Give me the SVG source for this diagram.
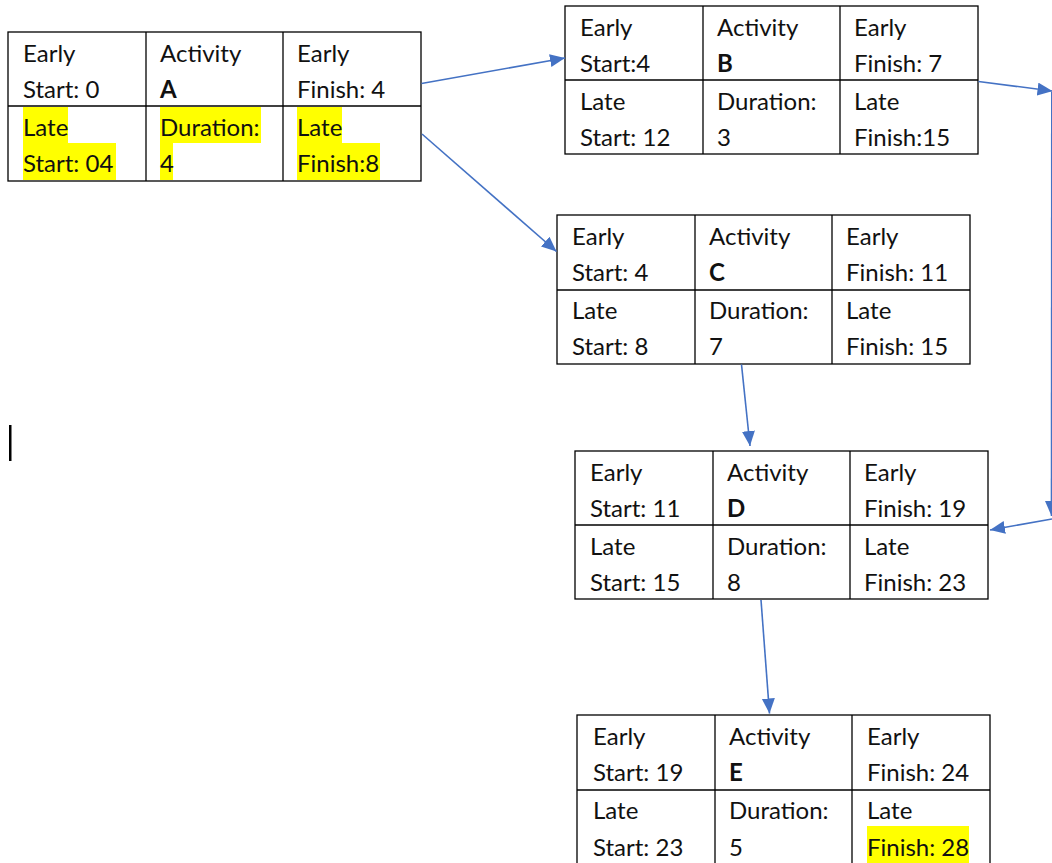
<svg xmlns="http://www.w3.org/2000/svg" width="1052" height="863" viewBox="0 0 1052 863">
  <style>
    .cell { fill: #ffffff; stroke: #000000; stroke-width: 1.3; }
    .grid { stroke: #000000; stroke-width: 1.3; }
    .t { font-family: Lato, "Liberation Sans", sans-serif; font-size: 24px; fill: #111111; }
    .b { font-weight: bold; }
    .hl { fill: #ffff00; }
    .conn { stroke: #4472c4; stroke-width: 1.6; fill: none; }
  </style>
  <defs>
    <marker id="arrow" markerUnits="userSpaceOnUse" markerWidth="16" markerHeight="14" refX="15" refY="6.5" orient="auto">
      <path d="M0,0 L15,6.5 L0,13 z" fill="#4472c4"/>
    </marker>
  </defs>

  <rect width="1052" height="863" fill="#ffffff"/>

  <!-- Activity A -->
  <g id="node-A" transform="translate(8,32)">
    <rect class="cell" x="0" y="0" width="413" height="149"/>
    <line class="grid" x1="138" y1="0" x2="138" y2="149"/>
    <line class="grid" x1="275" y1="0" x2="275" y2="149"/>
    <line class="grid" x1="0" y1="74" x2="413" y2="74"/>
    <rect class="hl" x="15" y="75" width="45" height="36"/>
    <rect class="hl" x="15" y="111" width="93" height="37"/>
    <rect class="hl" x="152" y="75" width="101" height="36"/>
    <rect class="hl" x="152" y="111" width="13" height="37"/>
    <rect class="hl" x="289" y="75" width="45" height="36"/>
    <rect class="hl" x="289" y="111" width="83" height="37"/>
    <text class="t" x="15" y="30">Early</text>
    <text class="t" x="15" y="66">Start: 0</text>
    <text class="t" x="152" y="30">Activity</text>
    <text class="t b" x="152" y="66">A</text>
    <text class="t" x="289" y="30">Early</text>
    <text class="t" x="289" y="66">Finish: 4</text>
    <text class="t" x="15" y="104">Late</text>
    <text class="t" x="15" y="140">Start: 04</text>
    <text class="t" x="152" y="104">Duration:</text>
    <text class="t" x="152" y="140">4</text>
    <text class="t" x="289" y="104">Late</text>
    <text class="t" x="289" y="140">Finish:8</text>
  </g>

  <!-- Activity B -->
  <g id="node-B" transform="translate(565,6)">
    <rect class="cell" x="0" y="0" width="413" height="148"/>
    <line class="grid" x1="138" y1="0" x2="138" y2="148"/>
    <line class="grid" x1="275" y1="0" x2="275" y2="148"/>
    <line class="grid" x1="0" y1="74" x2="413" y2="74"/>
    <text class="t" x="15" y="30">Early</text>
    <text class="t" x="15" y="66">Start:4</text>
    <text class="t" x="152" y="30">Activity</text>
    <text class="t b" x="152" y="66">B</text>
    <text class="t" x="289" y="30">Early</text>
    <text class="t" x="289" y="66">Finish: 7</text>
    <text class="t" x="15" y="104">Late</text>
    <text class="t" x="15" y="140">Start: 12</text>
    <text class="t" x="152" y="104">Duration:</text>
    <text class="t" x="152" y="140">3</text>
    <text class="t" x="289" y="104">Late</text>
    <text class="t" x="289" y="140">Finish:15</text>
  </g>

  <!-- Activity C -->
  <g id="node-C" transform="translate(557,215)">
    <rect class="cell" x="0" y="0" width="413" height="149"/>
    <line class="grid" x1="138" y1="0" x2="138" y2="149"/>
    <line class="grid" x1="275" y1="0" x2="275" y2="149"/>
    <line class="grid" x1="0" y1="75" x2="413" y2="75"/>
    <text class="t" x="15" y="30">Early</text>
    <text class="t" x="15" y="66">Start: 4</text>
    <text class="t" x="152" y="30">Activity</text>
    <text class="t b" x="152" y="66">C</text>
    <text class="t" x="289" y="30">Early</text>
    <text class="t" x="289" y="66">Finish: 11</text>
    <text class="t" x="15" y="104">Late</text>
    <text class="t" x="15" y="140">Start: 8</text>
    <text class="t" x="152" y="104">Duration:</text>
    <text class="t" x="152" y="140">7</text>
    <text class="t" x="289" y="104">Late</text>
    <text class="t" x="289" y="140">Finish: 15</text>
  </g>

  <!-- Activity D -->
  <g id="node-D" transform="translate(575,451)">
    <rect class="cell" x="0" y="0" width="413" height="148"/>
    <line class="grid" x1="138" y1="0" x2="138" y2="148"/>
    <line class="grid" x1="275" y1="0" x2="275" y2="148"/>
    <line class="grid" x1="0" y1="74" x2="413" y2="74"/>
    <text class="t" x="15" y="30">Early</text>
    <text class="t" x="15" y="66">Start: 11</text>
    <text class="t" x="152" y="30">Activity</text>
    <text class="t b" x="152" y="66">D</text>
    <text class="t" x="289" y="30">Early</text>
    <text class="t" x="289" y="66">Finish: 19</text>
    <text class="t" x="15" y="104">Late</text>
    <text class="t" x="15" y="140">Start: 15</text>
    <text class="t" x="152" y="104">Duration:</text>
    <text class="t" x="152" y="140">8</text>
    <text class="t" x="289" y="104">Late</text>
    <text class="t" x="289" y="140">Finish: 23</text>
  </g>

  <!-- Activity E -->
  <g id="node-E" transform="translate(577,715)">
    <rect class="cell" x="0" y="0" width="413" height="149"/>
    <line class="grid" x1="138" y1="0" x2="138" y2="149"/>
    <line class="grid" x1="275" y1="0" x2="275" y2="149"/>
    <line class="grid" x1="0" y1="75" x2="413" y2="75"/>
    <rect class="hl" x="290" y="111" width="102" height="38"/>
    <text class="t" x="16" y="30">Early</text>
    <text class="t" x="16" y="66">Start: 19</text>
    <text class="t" x="152" y="30">Activity</text>
    <text class="t b" x="152" y="66">E</text>
    <text class="t" x="290" y="30">Early</text>
    <text class="t" x="290" y="66">Finish: 24</text>
    <text class="t" x="16" y="104">Late</text>
    <text class="t" x="16" y="141">Start: 23</text>
    <text class="t" x="152" y="104">Duration:</text>
    <text class="t" x="152" y="141">5</text>
    <text class="t" x="290" y="104">Late</text>
    <text class="t" x="290" y="141">Finish: 28</text>
  </g>

  <!-- Text cursor -->
  <rect id="cursor" x="9" y="425" width="2.5" height="36" fill="#000000"/>

  <!-- Connectors -->
  <g id="connectors">
    <line class="conn" x1="421.5" y1="83.5" x2="565" y2="58" marker-end="url(#arrow)"/>
    <line class="conn" x1="422" y1="134" x2="556.5" y2="251.5" marker-end="url(#arrow)"/>
    <line class="conn" x1="978.5" y1="81.5" x2="1052.5" y2="91" marker-end="url(#arrow)"/>
    <line class="conn" x1="1051.8" y1="92" x2="1051.5" y2="516" marker-end="url(#arrow)"/>
    <line class="conn" x1="1052" y1="519" x2="990" y2="530" marker-end="url(#arrow)"/>
    <line class="conn" x1="741.5" y1="364.5" x2="750" y2="446" marker-end="url(#arrow)"/>
    <line class="conn" x1="761" y1="600" x2="769.5" y2="713.5" marker-end="url(#arrow)"/>
  </g>
</svg>
